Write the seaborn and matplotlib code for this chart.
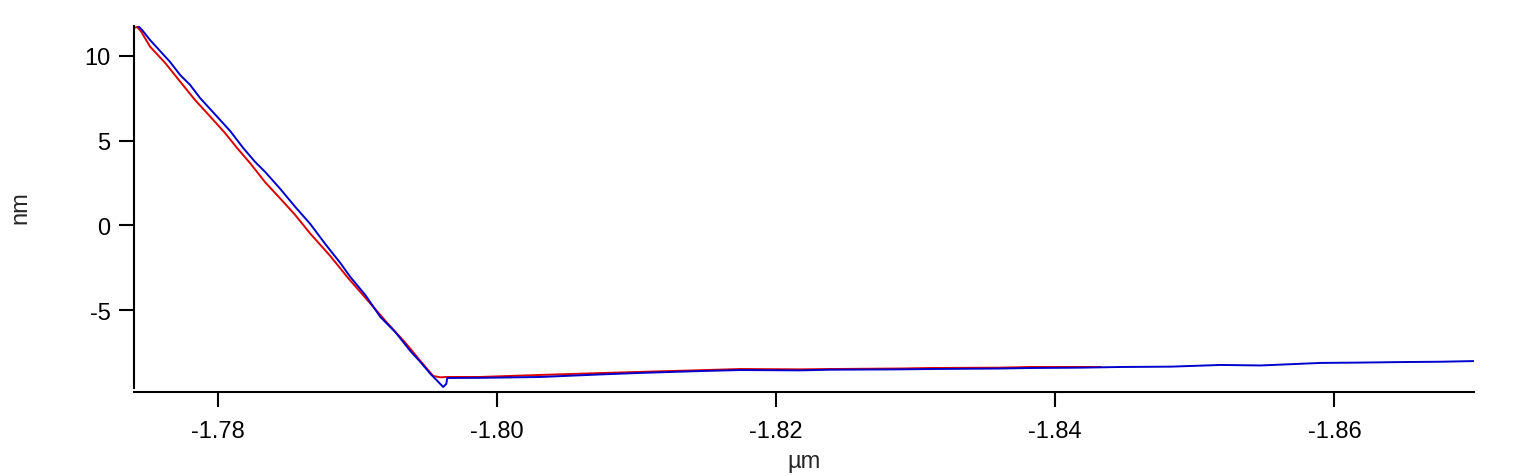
# Force curve overlay: approach (red) vs retract (blue)

import pandas as pd
import matplotlib
matplotlib.use('Agg')
import matplotlib.pyplot as plt
import seaborn as sns

# Data (x in um, y in nm)
red_x = [-1.77400, -1.77422, -1.77450, -1.77515, -1.77622, -1.77730, -1.77837, -1.77945,
         -1.78052, -1.78138, -1.78232, -1.78339, -1.78447, -1.78554, -1.78662, -1.78805,
         -1.78934, -1.79057, -1.79214, -1.79344, -1.79452, -1.79543, -1.79594, -1.79644,
         -1.79880, -1.80310, -1.80740, -1.81027, -1.81457, -1.81744, -1.82174, -1.82389,
         -1.82891, -1.83106, -1.83608, -1.83823, -1.84325]
red_y = [11.65, 11.71, 11.45, 10.55, 9.60, 8.49, 7.40, 6.43,
         5.45, 4.57, 3.67, 2.55, 1.59, 0.62, -0.48, -1.80,
         -3.11, -4.27, -5.76, -6.93, -8.01, -8.89, -8.97, -8.95,
         -8.95, -8.83, -8.72, -8.65, -8.55, -8.48, -8.50, -8.48,
         -8.45, -8.42, -8.40, -8.36, -8.36]

blue_x = [-1.77429, -1.77457, -1.77515, -1.77586, -1.77658, -1.77730, -1.77802, -1.77873,
          -1.77945, -1.78017, -1.78089, -1.78182, -1.78268, -1.78340, -1.78448, -1.78555,
          -1.78663, -1.78770, -1.78878, -1.78950, -1.79057, -1.79165, -1.79272, -1.79380,
          -1.79452, -1.79524, -1.79574, -1.79615, -1.79637, -1.79644, -1.79880, -1.80310,
          -1.80740, -1.81027, -1.81457, -1.81744, -1.82174, -1.82389, -1.82891, -1.83106,
          -1.83608, -1.83823, -1.84181, -1.84468, -1.84827, -1.85185, -1.85472, -1.85902,
          -1.86188, -1.86475, -1.86762, -1.87006]
blue_y = [11.77, 11.54, 10.94, 10.30, 9.65, 8.88, 8.29, 7.52,
          6.87, 6.22, 5.57, 4.57, 3.74, 3.15, 2.15, 1.09,
          0.08, -1.10, -2.22, -3.05, -4.11, -5.41, -6.30, -7.42,
          -8.07, -8.77, -9.19, -9.54, -9.36, -9.01, -9.00, -8.95,
          -8.80, -8.71, -8.60, -8.54, -8.56, -8.52, -8.50, -8.48,
          -8.45, -8.42, -8.40, -8.36, -8.34, -8.24, -8.27, -8.12,
          -8.10, -8.07, -8.05, -8.01]

x_ticks = [-1.78, -1.80, -1.82, -1.84, -1.86]
y_ticks = [-5, 0, 5, 10]

red = pd.DataFrame({'x': red_x, 'y': red_y})
blue = pd.DataFrame({'x': blue_x, 'y': blue_y})

sns.set_style('ticks')
plt.rcParams['font.family'] = ['Liberation Sans', 'DejaVu Sans']

fig = plt.figure(figsize=(15.28, 4.77), dpi=100)
ax = fig.add_axes([0.0877, 0.1845, 0.877, 0.759])

sns.lineplot(data=red, x='x', y='y', sort=False, estimator=None, color='#dd0000', lw=1.4, ax=ax)
sns.lineplot(data=blue, x='x', y='y', sort=False, estimator=None, color='#0000cc', lw=1.4, ax=ax)

ax.set_xlim(-1.774, -1.870)
ax.set_ylim(-9.60, 11.77)
ax.set_xticks(x_ticks)
ax.set_xticklabels([f'{t:.2f}' for t in x_ticks])
ax.set_yticks(y_ticks)
ax.set_yticklabels([str(t) for t in y_ticks])

for s in ['top', 'right']:
    ax.spines[s].set_visible(False)
for s in ['left', 'bottom']:
    ax.spines[s].set_linewidth(1.5)
    ax.spines[s].set_color('black')
ax.spines['bottom'].set_position(('outward', 3))

ax.tick_params(axis='x', length=11, width=1.5, pad=9, labelsize=17, colors='black')
ax.tick_params(axis='y', length=11, width=1.5, pad=6, labelsize=17, colors='black')

ax.set_xlabel('µm', fontsize=17, labelpad=6)
ax.set_ylabel('nm', fontsize=17, labelpad=38)

fig.savefig('out.png', dpi=100)
